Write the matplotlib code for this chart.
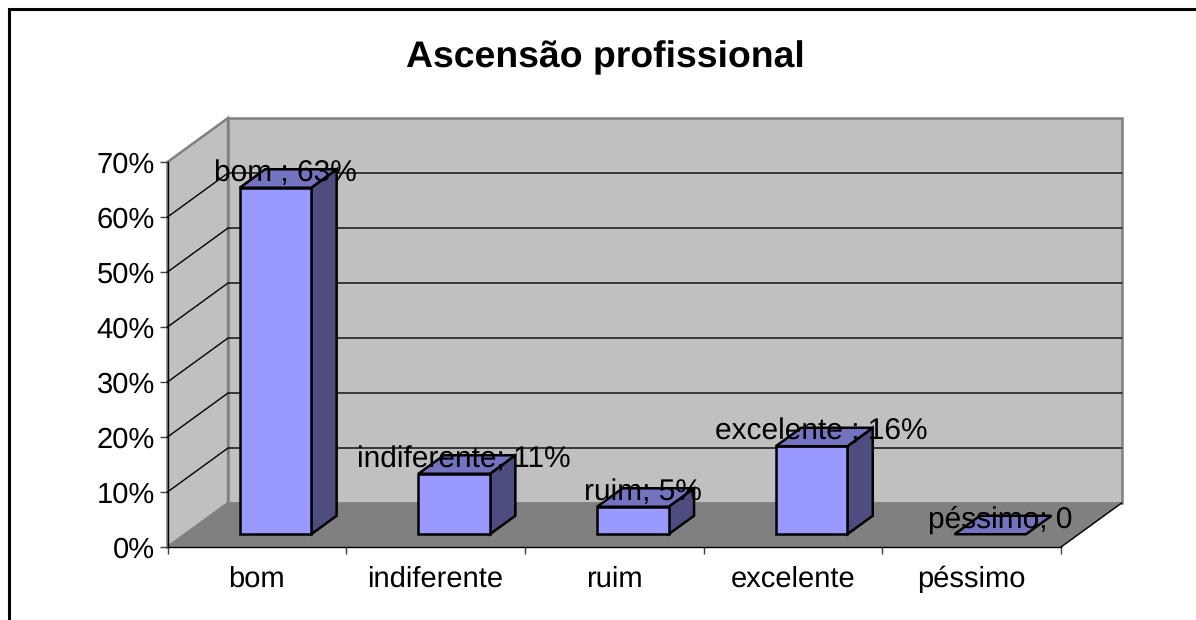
import matplotlib
matplotlib.use("Agg")
import matplotlib.pyplot as plt
from matplotlib.lines import Line2D
from matplotlib.patches import Polygon

plt.rcParams['font.family'] = ['Liberation Sans', 'DejaVu Sans']
plt.rcParams['text.hinting'] = 'none'

categories = ["bom", "indiferente", "ruim", "excelente", "péssimo"]
values = [63, 11, 5, 16, 0]
point_labels = ["bom ; 63%", "indiferente; 11%", "ruim; 5%", "excelente ; 16%", "péssimo; 0"]
y_ticks = [0, 10, 20, 30, 40, 50, 60, 70]
title = "Ascensão profissional"

W, H = 1196, 620
DEPTH_X = 0.3388  # depth of the box in category units
DEPTH_Y = 8.0     # depth of the box in percent units
BAR_W = 0.4
ZERO_DEPTH, FULL_DEPTH = 0.29, 0.71


def proj(x, y, d=0.0):
    return (x + d * DEPTH_X, y + d * DEPTH_Y)


def face(ax, pts, color, edge="black", lw=1.8, z=3):
    ax.add_patch(Polygon(pts, closed=True, facecolor=color, edgecolor=edge, lw=lw,
                         joinstyle="miter", clip_on=False, zorder=z))


fig = plt.figure(figsize=(W / 100, H / 100), dpi=100)
fig.patch.set_facecolor("white")
ax = fig.add_axes([167.5 / W, (H - 547) / H, 893.5 / W, 385 / H])
ax.set_xlim(0, len(categories))
ax.set_ylim(0, 70)
ax.patch.set_visible(False)

# chart frame, only the top and left edges are in the picture
fig.add_artist(Line2D([8.5 / W, 8.5 / W, 1], [0, 1 - 8.5 / H, 1 - 8.5 / H], transform=fig.transFigure,
                      color="black", lw=2.2, solid_joinstyle="miter"))

n = len(categories)
wall = "#c0c0c0"
floor = "#808080"
top = y_ticks[-1]

# side wall, back wall, floor
face(ax, [proj(0, 0), proj(0, top), proj(0, top, 1), proj(0, 0, 1)], wall, edge=floor, lw=1.8, z=1)
face(ax, [proj(0, 0, 1), proj(0, top, 1), proj(n, top, 1), proj(n, 0, 1)], wall, edge=floor, lw=1.8, z=1)
face(ax, [proj(0, 0), proj(0, 0, 1), proj(n, 0, 1), proj(n, 0)], floor, edge=floor, lw=1, z=1)
ax.plot(*zip(proj(n, 0), proj(n, 0, 1)), color="black", lw=1, clip_on=False, zorder=2)

# gridlines bend round the corner of the side wall
for t in y_ticks[1:-1]:
    a, b, c = proj(0, t), proj(0, t, 1), proj(n, t, 1)
    ax.plot([a[0], b[0], c[0]], [a[1], b[1], c[1]], color="black", lw=1, clip_on=False, zorder=2)

# bars
for i, v in enumerate(values):
    x0 = i + 0.5 - BAR_W / 2 + ZERO_DEPTH * DEPTH_X + 0.006
    x1 = x0 + BAR_W
    y0 = ZERO_DEPTH * DEPTH_Y
    dd = FULL_DEPTH - ZERO_DEPTH
    y1 = y0 + v
    front = [(x0, y0), (x0, y1), (x1, y1), (x1, y0)]
    top_face = [(x0, y1), proj(x0, y1, dd), proj(x1, y1, dd), (x1, y1)]
    side = [(x1, y0), (x1, y1), proj(x1, y1, dd), proj(x1, y0, dd)]
    if v > 0:
        face(ax, side, "#4d4d80")
        face(ax, front, "#9999ff")
    face(ax, top_face, "#7373bf")
    cx, cy = proj((x0 + x1) / 2, y1, dd / 2)
    ax.annotate(point_labels[i], (cx, cy), xytext=(-2, 4), textcoords="offset points",
                ha="center", va="center", fontsize=21.5, color="black", zorder=5,
                annotation_clip=False)

# axes
for s in ["top", "right"]:
    ax.spines[s].set_visible(False)
for s in ["left", "bottom"]:
    ax.spines[s].set_linewidth(1.0)
    ax.spines[s].set_color("black")
    ax.spines[s].set_zorder(4)
ax.set_yticks(y_ticks)
ax.set_yticklabels([f"{t}%" for t in y_ticks], fontsize=21)
ax.set_xticks(range(n + 1))
ax.set_xticklabels([])
ax.set_xticks([i + 0.5 for i in range(n)], minor=True)
labels = ax.set_xticklabels(categories, minor=True, fontsize=21)
plt.setp(labels, va="baseline")
ax.tick_params(axis="x", which="major", length=5, width=1, color="#404040")
ax.tick_params(axis="x", which="minor", length=0, pad=28.8)
ax.tick_params(axis="y", length=6, width=1, color="#404040", pad=3)

fig.text(605.5 / W, 1 - 58 / H, title, ha="center", va="center", fontsize=26.9, fontweight="bold")

fig.savefig("out.png", dpi=100)
